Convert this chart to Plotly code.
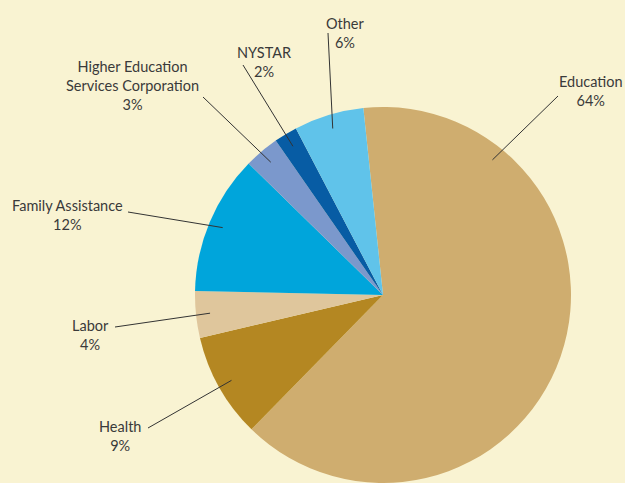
import math
import plotly.graph_objects as go

# ---- data ----
labels = ["Education", "Health", "Labor", "Family Assistance",
          "Higher Education<br>Services Corporation", "NYSTAR", "Other"]
values = [64, 9, 4, 12, 3, 2, 6]

# ---- style ----
colors = ["#cfad6f", "#b48722", "#dfc69c", "#00a5db", "#7b98cc", "#075ca4", "#60c3ea"]
BG = "#f9f3d2"
TXT = "#3a3a3a"
W, H = 625, 483
CX, R = 383, 188
ROT = -6
# label centre (px) and outer end of leader line (px)
label_pos = [(591, 91), (120, 436), (90, 335), (67, 215), (132, 86), (264, 62), (345, 33)]
line_end = [(558, 96), (148, 428), (115, 327), (128, 212), (203, 97), (243, 65), (328, 33)]
anchor_angle_override = {0: 39}
ANCHOR_R = 0.925

dom_x = [(CX - R) / W, (CX + R) / W]
dom_y = [0, 2 * R / H]
CY = H - R

fig = go.Figure(go.Pie(
    labels=labels, values=values, sort=False, direction="clockwise",
    rotation=ROT, marker=dict(colors=colors, line=dict(width=0)),
    textinfo="none", hoverinfo="label+percent", showlegend=False,
    domain=dict(x=dom_x, y=dom_y),
))

total = sum(values)
acc = 0.0
shapes, annots = [], []
for i, (lab, v) in enumerate(zip(labels, values)):
    start = ROT + acc / total * 360
    acc += v
    end = ROT + acc / total * 360
    ang = anchor_angle_override.get(i, (start + end) / 2)
    a = math.radians(ang)
    ax = CX + ANCHOR_R * R * math.sin(a)
    ay = CY - ANCHOR_R * R * math.cos(a)
    ex, ey = line_end[i]
    shapes.append(dict(type="line", xref="paper", yref="paper",
                       x0=ax / W, y0=1 - ay / H, x1=ex / W, y1=1 - ey / H,
                       line=dict(color="#333333", width=1)))
    lx, ly = label_pos[i]
    pct = round(v / total * 100)
    annots.append(dict(x=lx / W, y=1 - ly / H, xref="paper", yref="paper",
                       text=f"{lab}<br>{pct}%", showarrow=False,
                       xanchor="center", yanchor="middle", align="center",
                       font=dict(family="Lato, Open Sans, sans-serif", size=14.5, color=TXT)))

fig.update_layout(width=W, height=H, margin=dict(l=0, r=0, t=0, b=0),
                  paper_bgcolor=BG, plot_bgcolor=BG,
                  shapes=shapes, annotations=annots)
fig.write_html("out.html", config={"displayModeBar": False},
               post_script="document.body.style.margin='0';"
                           "document.body.style.overflow='hidden';"
                           "document.body.style.background='" + BG + "';")
